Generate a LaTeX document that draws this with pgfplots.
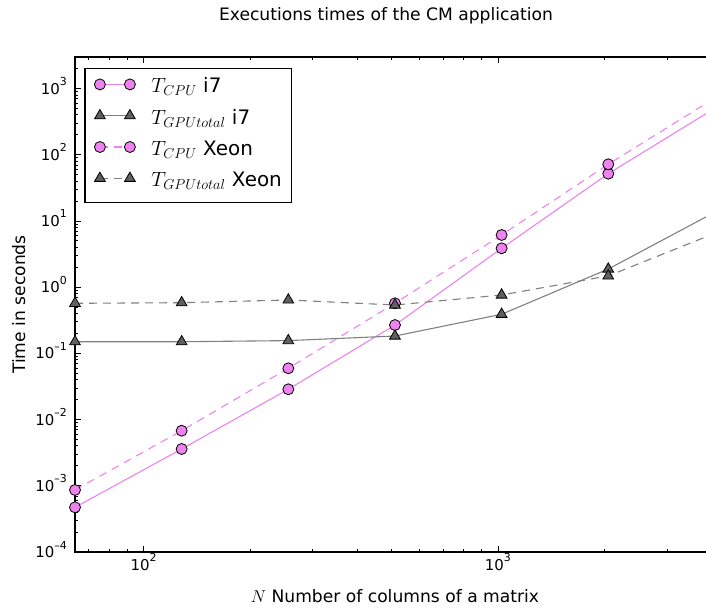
\documentclass[border=0pt]{standalone}
\usepackage{pgfplots}
\usepackage{pgfplotstable}
\pgfplotsset{compat=1.18}
\usepackage{fontspec}
\setmainfont{DejaVu Sans}

\definecolor{cpucol}{HTML}{EE82EE}
\definecolor{gpuline}{HTML}{808080}
\definecolor{gpufill}{HTML}{606060}

% execution times in seconds
\pgfplotstableread{
N     cpui7    gpui7  cpuxeon  gpuxeon
64    4.73e-4  0.150  8.65e-4  0.571
128   3.6e-3   0.150  6.79e-3  0.583
256   0.0287   0.156  0.0596   0.641
512   0.268    0.183  0.571    0.538
1024  3.87     0.390  6.15     0.762
2048  51.8     1.88   71.9     1.48
4096  505      13.6   720      6.53
}\times

\newcommand{\tpow}[1]{10\raisebox{8.5bp}{\fontsize{11}{12}\selectfont #1}}

\begin{document}
\begin{tikzpicture}
\begin{axis}[
  at={(0,0)}, anchor=south west,
  xmode=log, ymode=log,
  scale only axis, width=639.9bp, height=495bp,
  xmin=64, xmax=4096, ymin=1e-4, ymax=3000,
  axis line style={line width=1.5bp},
  tick align=inside,
  major tick length=6bp, minor tick length=3bp,
  every tick/.style={black, line width=0.9bp},
  xtick={100,1000},
  xticklabels={\tpow{2},\tpow{3}},
  minor xtick={70,80,90,200,300,400,500,600,700,800,900,2000,3000,4000},
  ytick={1e-4,1e-3,1e-2,1e-1,1,10,100,1000},
  yticklabels={\tpow{–4},\tpow{–3},\tpow{–2},\tpow{–1},\tpow{0},\tpow{1},\tpow{2},\tpow{3}},
  minor ytick={2e-4,3e-4,4e-4,5e-4,6e-4,7e-4,8e-4,9e-4,
               2e-3,3e-3,4e-3,5e-3,6e-3,7e-3,8e-3,9e-3,
               2e-2,3e-2,4e-2,5e-2,6e-2,7e-2,8e-2,9e-2,
               0.2,0.3,0.4,0.5,0.6,0.7,0.8,0.9,
               2,3,4,5,6,7,8,9,
               20,30,40,50,60,70,80,90,
               200,300,400,500,600,700,800,900,
               2000,3000},
  tick label style={font=\fontsize{15}{18}\selectfont, inner sep=0pt},
  xticklabel style={anchor=base, yshift=-18bp},
  yticklabel style={anchor=base east, xshift=-8bp, yshift=-5.5bp},
  title={Executions times of the CM application},
  title style={font=\fontsize{17.2}{20}\selectfont, at={(0.5,1)}, anchor=base,
    xshift=-9bp, yshift=31bp, inner sep=0pt},
  xlabel={$N$ Number of columns of a matrix},
  xlabel style={font=\fontsize{17.2}{20}\selectfont, at={(0.5,0)}, anchor=base, yshift=-50bp, inner sep=0pt},
  ylabel={Time in seconds},
  every axis y label/.style={at={(0,0.5)}, xshift=-50bp, rotate=90, anchor=base,
    font=\fontsize{17.2}{20}\selectfont, inner sep=0pt},
  legend style={at={(0,1)}, anchor=north west, xshift=9.3bp, yshift=-10.8bp,
    draw=black, line width=1.2bp, fill=white,
    font=\fontsize{20}{24}\selectfont,
    inner xsep=9.5bp, inner ysep=9.5bp,
    row sep=10.3bp, column sep=16bp,
    nodes={inner sep=0pt, text height=15bp, text depth=6bp}},
  legend cell align=left,
  legend image code/.code={
    \draw[mark repeat=2, mark phase=1, #1]
      plot coordinates {(0bp,4bp) (15bp,4bp) (30bp,4bp)};},
  cpu/.style={color=cpucol, line width=1.1bp, mark=*, mark size=5.5bp,
    mark options={solid, fill=cpucol, draw=black, line width=0.8bp}},
  gpu/.style={color=gpuline, line width=1.1bp, mark=triangle*, mark size=6.2bp,
    mark options={solid, fill=gpufill, draw=black, line width=0.8bp}},
  dashedline/.style={dash pattern=on 8bp off 6bp},
]
\addplot[cpu] table[x=N, y=cpui7] {\times};
\addlegendentry{$T_{CPU}$ i7}
\addplot[gpu] table[x=N, y=gpui7] {\times};
\addlegendentry{$T_{GPUtotal}$ i7}
\addplot[cpu, dashedline] table[x=N, y=cpuxeon] {\times};
\addlegendentry{$T_{CPU}$ Xeon}
\addplot[gpu, dashedline] table[x=N, y=gpuxeon] {\times};
\addlegendentry{$T_{GPUtotal}$ Xeon}
\end{axis}
\pgfresetboundingbox
\useasboundingbox (-75bp,-56bp) rectangle (631bp,552bp);
\end{tikzpicture}
\end{document}
